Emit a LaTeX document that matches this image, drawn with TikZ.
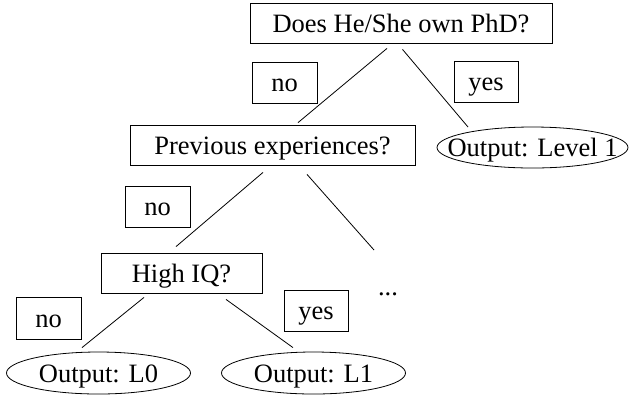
\documentclass[tikz,border=0pt]{standalone}
\usepackage{fontspec}
\setmainfont{Liberation Serif}
\usepackage{tikz}
\usetikzlibrary{%
    shapes.geometric,
    positioning,
    calc
}

\newcommand{\leaftext}[1]{\makebox[0pt]{#1}}

\begin{document}
\begin{tikzpicture}[x=1bp, y=-1bp,
                every node/.style={font=\fontsize{26.5bp}{30bp}\selectfont, text height=22bp, text depth=4bp},
                question/.style={rectangle, minimum height=40bp, inner sep=0pt, text centered, draw, line width=0.8bp},
                answer/.style={rectangle, minimum width=65bp, minimum height=41bp, inner sep=0pt, text centered, draw, line width=0.8bp},
                leaf/.style={ellipse, minimum width=184bp, minimum height=42bp, inner sep=0pt, draw, line width=0.8bp},
                branch/.style={draw, line width=0.8bp}
            ]
            \useasboundingbox (0,0) rectangle (635,395);

            \node (phd) at (401,23) [question, minimum width=302bp] {Does He/She own PhD?};
            \node (exp) at (272.5,145) [question, minimum width=285bp] {Previous experiences?};
            \node (iq) at (181.5,273) [question, minimum width=161bp] {High IQ?};

            \node (lvl1) at (532.5,147.5) [leaf, minimum width=191bp, minimum height=41bp] {\leaftext{Output: Level 1}};
            \node (lzero) at (98.5,373) [leaf] {\leaftext{Output: L0}};
            \node (lone) at (313.5,373) [leaf] {\leaftext{Output: L1}};
            \node (more) at (388,295) [anchor=base, inner sep=0pt] {...};

            % branch labels
            \node (noA) at (284.5,82.5) [answer] {no};
            \node (yesA) at (486,81.5) [answer, minimum width=64bp] {yes};
            \node (noB) at (157.5,206.5) [answer] {no};
            \node (noC) at (48.5,318) [answer, minimum height=42bp] {no};
            \node (yesC) at (316,310.5) [answer, minimum width=64bp] {yes};

            \draw [branch] ($(phd.south)+(-14,5)$) -- ($(exp.north)+(25.5,-2)$);
            \draw [branch] ($(phd.south)+(1.5,6)$) -- ($(lvl1.center)+(-64.5,-20.5)$);

            \draw [branch] ($(exp.south)+(-9.5,7)$) -- ($(iq.north)+(-5.5,-6)$);
            \draw [branch] ($(exp.south)+(34.5,9)$) -- ($(more.base)+(-14,-45)$);

            \draw [branch] ($(iq.south)+(-37.5,4)$) -- ($(lzero.north)+(-16.5,-4)$);
            \draw [branch] ($(iq.south)+(44.5,6)$) -- ($(lone.north)+(-20.5,-4)$);
        \end{tikzpicture}
\end{document}
